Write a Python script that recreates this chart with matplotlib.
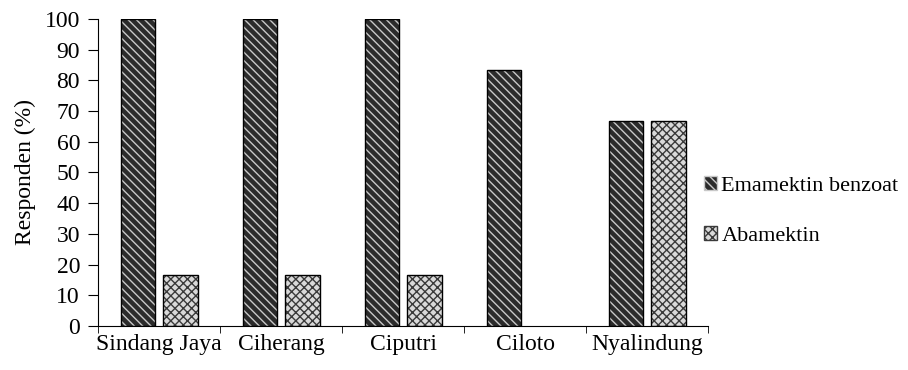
import matplotlib.pyplot as plt
import numpy as np
from matplotlib.patches import Patch

plt.rcParams['font.family'] = ['Liberation Serif', 'DejaVu Serif']
plt.rcParams['hatch.linewidth'] = 1.0

lokasi = ["Sindang Jaya", "Ciherang", "Ciputri", "Ciloto", "Nyalindung"]
emamektin = [100, 100, 100, 83.3, 66.7]
abamektin = [16.7, 16.7, 16.7, 0, 66.7]

x = np.arange(len(lokasi))
w = 0.28
fs = 17

fig = plt.figure(figsize=(9.08, 3.70), dpi=100)
ax = fig.add_axes([0.108, 0.119, 0.672, 0.830])

# isi + arsiran, lalu garis tepi hitam
ax.bar(x - 0.175, emamektin, w, color="#2b2b2b", edgecolor="#c8c8c8", hatch="\\\\\\\\", linewidth=0)
ax.bar(x - 0.175, emamektin, w, fill=False, edgecolor="black", linewidth=1)
ax.bar(x + 0.175, abamektin, w, color="#d9d9d9", edgecolor="#3a3a3a", hatch="xxxx", linewidth=0)
for xi, v in zip(x, abamektin):
    if v > 0:
        ax.bar(xi + 0.175, v, w, fill=False, edgecolor="black", linewidth=1)

ax.set_xlim(-0.5, 4.5)
ax.set_ylim(0, 100)
ax.set_yticks(range(0, 101, 10))
ax.set_xticks(x)
ax.set_xticklabels(lokasi)
ax.tick_params(axis='x', length=0, labelsize=fs, pad=6)
ax.set_xticks(np.arange(-0.5, 5, 1), minor=True)
ax.tick_params(axis='x', which='minor', length=5, direction='out')
ax.tick_params(axis='y', labelsize=fs, length=7, pad=6)
ax.set_ylabel("Responden (%)", fontsize=fs, labelpad=6)
ax.spines['top'].set_visible(False)
ax.spines['right'].set_visible(False)

handles = [
    Patch(facecolor="#2b2b2b", edgecolor="#c8c8c8", hatch="\\\\\\\\", label="Emamektin benzoat"),
    Patch(facecolor="#d9d9d9", edgecolor="#3a3a3a", hatch="xxxx", label="Abamektin"),
]
fig.legend(handles=handles, loc="center left", bbox_to_anchor=(0.775, 0.43),
           frameon=False, fontsize=16, handlelength=0.6, handleheight=0.6,
           handletextpad=0.2, labelspacing=1.35, borderpad=0, borderaxespad=0)

fig.savefig("out.png", dpi=100)
